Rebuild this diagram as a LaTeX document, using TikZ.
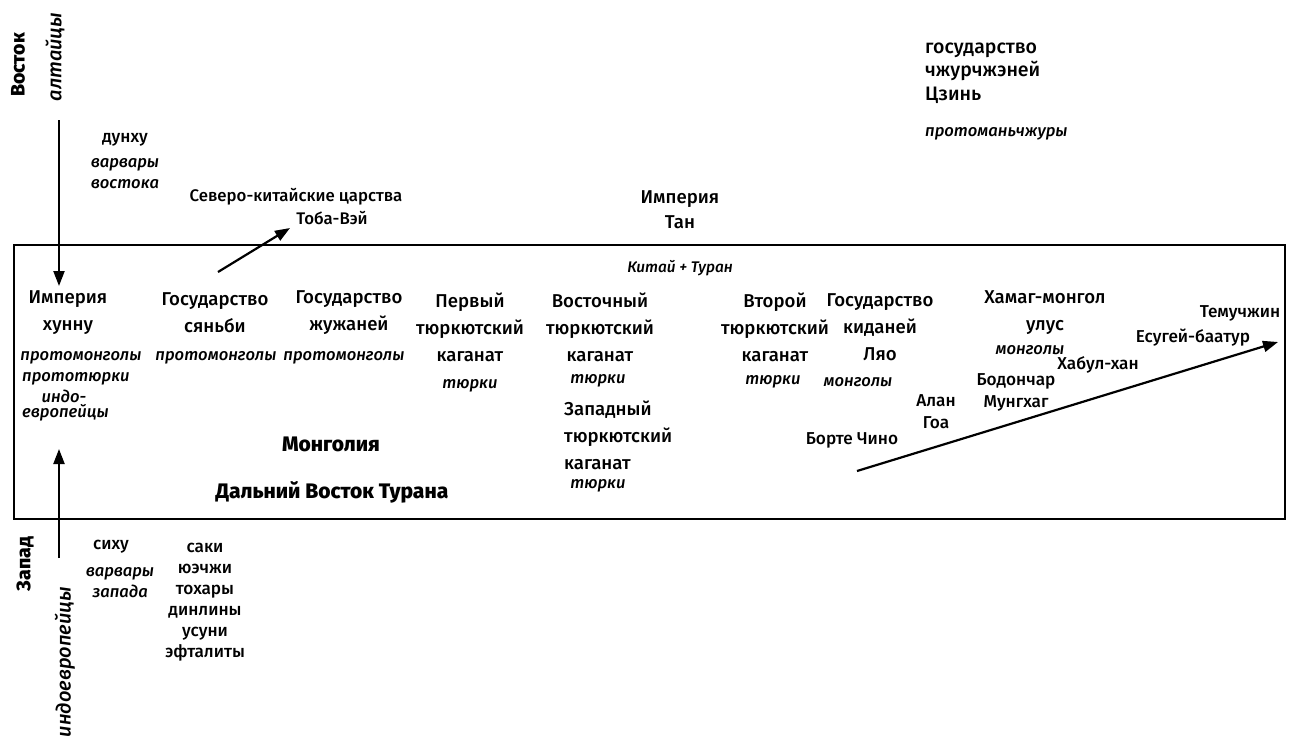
\documentclass[tikz,border=0pt]{standalone}
\usepackage{fontspec}
\setmainfont{Fira Sans}[UprightFont={* Medium}, ItalicFont={* Medium Italic}, BoldFont={* ExtraBold}, BoldItalicFont={* ExtraBold Italic}]
\usetikzlibrary{arrows.meta}
\tikzset{
  big/.style={font=\fontsize{18.6}{27}\selectfont, align=center, inner sep=0pt},
  small/.style={font=\fontsize{17.2}{22}\selectfont, align=center, inner sep=0pt},
  ethno/.style={font=\fontsize{16.6}{21}\selectfont\itshape, align=center, inner sep=0pt},
  head/.style={font=\fontsize{21}{26}\selectfont\bfseries, inner sep=0pt},
  side/.style={font=\fontsize{19.5}{22}\selectfont\bfseries, inner sep=0pt, rotate=90},
  sideit/.style={font=\fontsize{20}{22}\selectfont\itshape, inner sep=0pt, rotate=90},
  flow/.style={line width=2.2pt, -{Triangle[length=15pt,width=11pt]}},
  frame/.style={line width=1.8pt}
}
\begin{document}
\begin{tikzpicture}[x=1pt,y=-1pt]
\useasboundingbox (0,0) rectangle (1289,737);
\draw[frame] (14,245) rectangle (1285,519);

% side captions
\node[side] (east) at (18,65) {Восток};
\node[sideit] (altai) at (55,57) {алтайцы};
\node[side] (west) at (25,564) {Запад};
\node[sideit] (indoeu) at (65,662) {индоевропейцы};

% eastern barbarians
\node[small] (dunhu) at (125,140) {дунху};
\node[ethno] (varv1) at (125,174) {варвары\\востока};

% northern Chinese kingdoms and Tang
\node[small, font=\fontsize{16.8}{22}\selectfont] (sevkit) at (296,197) {Северо-китайские царства};
\node[small, font=\fontsize{16.8}{22}\selectfont] (toba) at (332,218) {Тоба-Вэй};
\node[big, font=\fontsize{18.6}{25}\selectfont] (tan) at (680,210) {Империя\\Тан};
\node[ethno, font=\fontsize{15.4}{20}\selectfont\itshape] (kitai) at (680,268) {Китай + Туран};

% Jurchen
\node[small, align=left, anchor=west, font=\fontsize{19.5}{23.5}\selectfont] (jin) at (925,73) {государство\\чжурчжэней\\Цзинь};
\node[ethno, anchor=west] (manchu) at (925,134) {протоманьчжуры};

% states inside the frame
\node[big] (hunnu) at (68,313) {Империя\\хунну};
\node[big] (syanbi) at (215,313) {Государство\\сяньби};
\node[big] (zhuzhan) at (349,313) {Государство\\жужаней};
\node[big] (turk1) at (470,327) {Первый\\тюркютский\\каганат};
\node[big] (eturk) at (600,327) {Восточный\\тюркютский\\каганат};
\node[big, align=left, anchor=west] (wturk) at (564,435) {Западный\\тюркютский\\каганат};
\node[big] (turk2) at (775,327) {Второй\\тюркютский\\каганат};
\node[big] (kidan) at (880,327) {Государство\\киданей\\Ляо};
\node[big] (hamag) at (1045,313) {Хамаг-монгол\\улус};

% peoples
\node[ethno] (pm1) at (81,358) {протомонголы};
\node[ethno, anchor=west] (pt1) at (22,379) {прототюрки};
\node[ethno] (pi1) at (64,396) {индо-};
\node[ethno, anchor=west] (pe1) at (22,413) {европейцы};
\node[ethno] (pm2) at (216,358) {протомонголы};
\node[ethno] (pm3) at (344,358) {протомонголы};
\node[ethno] (tk1) at (470,386) {тюрки};
\node[ethno] (tk2) at (598,381) {тюрки};
\node[ethno] (tk3) at (598,486) {тюрки};
\node[ethno] (tk4) at (773,382) {тюрки};
\node[ethno] (mg1) at (858,382) {монголы};
\node[ethno] (mg2) at (1030,350) {монголы};

% region names
\node[head] (mongolia) at (331,444) {Монголия};
\node[head] (dalvost) at (332,492) {Дальний Восток Турана};

% ancestors of Temujin
\node[small] (borte) at (852,440) {Борте Чино};
\node[small] (alan) at (936,412) {Алан\\Гоа};
\node[small] (bodon) at (1016,392) {Бодончар\\Мунгхаг};
\node[small] (khabul) at (1098,365) {Хабул-хан};
\node[small] (yesugei) at (1193,338) {Есугей-баатур};
\node[small] (temuj) at (1240,313) {Темучжин};

% western barbarians
\node[small] (sihu) at (111,547) {сиху};
\node[ethno] (varv2) at (120,583) {варвары\\запада};
\node[small, font=\fontsize{17.2}{21}\selectfont] (saki) at (205,602) {саки\\юэчжи\\тохары\\динлины\\усуни\\эфталиты};

% arrows
\coordinate (eastin) at (59,120);
\coordinate (eastout) at (59,286);
\coordinate (westin) at (59,558);
\coordinate (westout) at (59,449);
\coordinate (tobafrom) at (218,272);
\coordinate (tobato) at (290,228);
\coordinate (linefrom) at (857,471);
\coordinate (lineto) at (1278,342);
\draw[flow] (eastin) -- (eastout);
\draw[flow] (westin) -- (westout);
\draw[flow] (tobafrom) -- (tobato);
\draw[flow] (linefrom) -- (lineto);
\end{tikzpicture}
\end{document}
